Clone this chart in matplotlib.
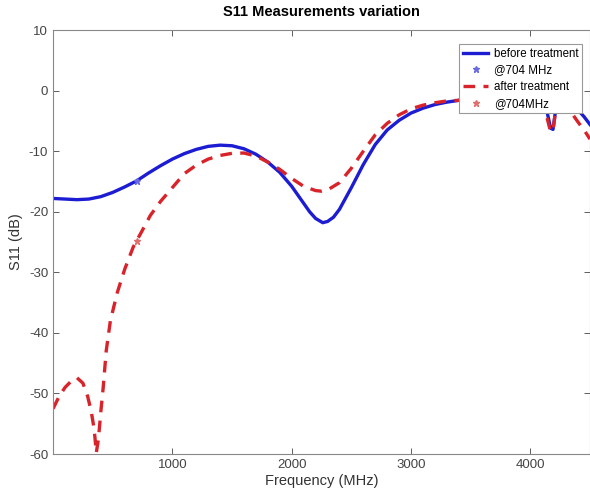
import numpy as np
import matplotlib
matplotlib.use('Agg')
import matplotlib.pyplot as plt

plt.rcParams['font.family'] = ['Liberation Sans', 'DejaVu Sans']
plt.rcParams['axes.unicode_minus'] = False

# S11 before treatment (MHz, dB)
freq_before = [0, 100, 200, 300, 400, 500, 600, 700, 800, 900, 1000, 1100, 1200,
               1300, 1400, 1500, 1600, 1700, 1800, 1900, 2000, 2100, 2150, 2200,
               2260, 2300, 2350, 2400, 2500, 2600, 2700, 2800, 2900, 3000, 3100,
               3200, 3300, 3400, 3500, 3600, 3700, 3800, 3900, 4000, 4050, 4100,
               4140, 4170, 4190, 4210, 4250, 4300, 4350, 4400, 4450, 4500]
s11_before = [-17.8, -17.9, -18.0, -17.9, -17.5, -16.8, -15.9, -14.9, -13.6, -12.4,
              -11.3, -10.4, -9.7, -9.2, -9.0, -9.1, -9.6, -10.5, -11.8, -13.5,
              -15.8, -18.6, -20.0, -21.1, -21.8, -21.6, -20.9, -19.6, -16.0, -12.2,
              -8.9, -6.5, -4.9, -3.7, -2.9, -2.3, -1.9, -1.6, -1.5, -1.4, -1.4,
              -1.4, -1.5, -1.6, -1.8, -2.3, -3.5, -6.2, -6.4, -3.5, -2.3, -2.1,
              -2.5, -3.2, -4.3, -5.6]

# S11 after treatment
freq_after = [0, 50, 100, 150, 200, 250, 290, 320, 345, 362, 380, 400, 420, 445,
              480, 537, 600, 672, 750, 815, 900, 1000, 1100, 1200, 1300, 1400,
              1500, 1600, 1700, 1800, 1900, 2000, 2100, 2200, 2250, 2300, 2400,
              2500, 2600, 2700, 2800, 2900, 3000, 3100, 3200, 3300, 3400, 3500,
              3600, 3700, 3800, 3900, 4000, 4050, 4100, 4140, 4170, 4190, 4210,
              4250, 4300, 4350, 4400, 4450, 4500]
s11_after = [-52.5, -50.5, -49.0, -48.0, -47.4, -48.3, -50.5, -53.0, -56.0, -59.8,
             -57.5, -53.0, -49.0, -43.0, -38.0, -33.4, -29.5, -25.8, -23.0, -20.6,
             -18.3, -16.0, -13.7, -12.3, -11.3, -10.7, -10.35, -10.3, -10.8, -11.8,
             -13.0, -14.5, -15.8, -16.5, -16.6, -16.4, -15.2, -12.8, -10.0, -7.3,
             -5.4, -4.0, -3.0, -2.4, -2.0, -1.7, -1.6, -1.5, -1.5, -1.5, -1.6,
             -1.8, -2.0, -2.3, -3.0, -4.5, -6.8, -6.5, -3.6, -2.6, -2.8, -3.8,
             -5.2, -6.5, -8.0]

# values at 704 MHz
f_mark = [704]
before_mark = [-14.9]
after_mark = [-24.8]

fig = plt.figure(figsize=(5.9, 4.93), dpi=100)
ax = fig.add_axes([0.09, 0.079, 0.91, 0.86])

ax.plot(freq_before, s11_before, color='#1c1cd2', lw=2.4, label='before treatment')
ax.plot(f_mark, before_mark, ls='none', marker='*', ms=4.5, color='#6a6ae0', label='@704 MHz')
ax.plot(freq_after, s11_after, color='#d8232a', lw=2.4, ls=(0, (3.5, 2.5)), label='after treatment')
ax.plot(f_mark, after_mark, ls='none', marker='*', ms=4.5, color='#e07070', label='@704MHz')

ax.set_xlim(0, 4500)
ax.set_ylim(-60, 10)
ax.set_xticks([1000, 2000, 3000, 4000])
ax.set_yticks(np.arange(-60, 11, 10))
ax.tick_params(direction='in', top=True, right=True, colors='#444444', labelsize=9.5,
               length=4, width=0.6)
for s in ax.spines.values():
    s.set_color('#888888')
    s.set_linewidth(0.8)

ax.set_xlabel('Frequency (MHz)', fontsize=10.5, color='#333333', labelpad=2)
ax.set_ylabel('S11 (dB)', fontsize=10.5, color='#333333', labelpad=4)
ax.set_title('S11 Measurements variation', fontsize=10.5, fontweight='bold', pad=10)

leg = ax.legend(loc='upper right', bbox_to_anchor=(0.996, 0.98), fontsize=8.3,
                frameon=True, fancybox=False, edgecolor='#999999', framealpha=1,
                handlelength=2.2, borderpad=0.3, labelspacing=0.4, handletextpad=0.5)
leg.get_frame().set_linewidth(0.8)

fig.savefig('out.png', dpi=100)
